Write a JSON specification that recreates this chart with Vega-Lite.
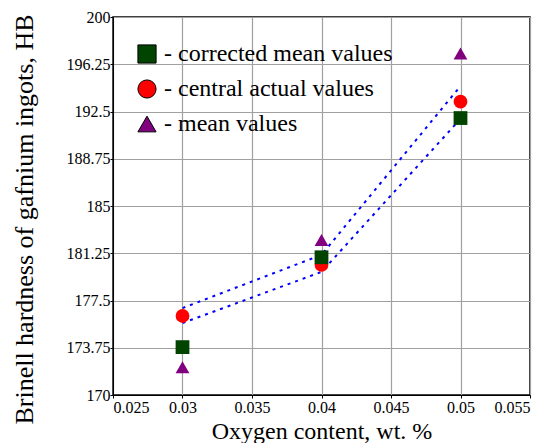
{
  "$schema": "https://vega.github.io/schema/vega-lite/v6.json",
  "width": 417,
  "height": 378,
  "autosize": "none",
  "padding": {"left": 113, "top": 17, "right": 21, "bottom": 48},
  "background": "white",
  "config": {
    "font": "Liberation Serif",
    "view": {"stroke": "black", "strokeWidth": 1.5},
    "legend": {"labelFont": "Liberation Serif"},
    "axis": {
      "labelFont": "Liberation Serif",
      "titleFont": "Liberation Serif",
      "labelFontSize": 16,
      "titleFontSize": 24,
      "titleFontWeight": "normal",
      "labelColor": "black",
      "titleColor": "black",
      "gridColor": "#a0a0a0",
      "gridOpacity": 1,
      "gridWidth": 1.2,
      "domainColor": "black",
      "tickColor": "black",
      "tickSize": 3
    }
  },
  "datasets": {
    "pts": [
      {"series": "- central actual values", "oxygen": 0.03, "hb": 176.27},
      {"series": "- central actual values", "oxygen": 0.04, "hb": 180.32},
      {"series": "- central actual values", "oxygen": 0.05, "hb": 193.28},
      {"series": "- corrected mean values", "oxygen": 0.03, "hb": 173.8},
      {"series": "- corrected mean values", "oxygen": 0.04, "hb": 180.93},
      {"series": "- corrected mean values", "oxygen": 0.05, "hb": 191.98},
      {"series": "- mean values", "oxygen": 0.03, "hb": 172.2},
      {"series": "- mean values", "oxygen": 0.04, "hb": 182.3},
      {"series": "- mean values", "oxygen": 0.05, "hb": 197.1}
    ],
    "bands": [
      {"band": "upper", "oxygen": 0.03, "hb": 176.9},
      {"band": "upper", "oxygen": 0.04, "hb": 181.12},
      {"band": "upper", "oxygen": 0.05, "hb": 194.52},
      {"band": "lower", "oxygen": 0.03, "hb": 175.71},
      {"band": "lower", "oxygen": 0.04, "hb": 179.77},
      {"band": "lower", "oxygen": 0.05, "hb": 191.92}
    ]
  },
  "layer": [
    {
      "data": {"name": "bands"},
      "mark": {"type": "line", "color": "#0000ff", "strokeWidth": 2, "strokeDash": [3, 5]},
      "encoding": {
        "x": {
          "field": "oxygen", "type": "quantitative",
          "scale": {"domain": [0.025, 0.055], "nice": false, "zero": false},
          "axis": {
            "values": [0.025, 0.03, 0.035, 0.04, 0.045, 0.05, 0.055],
            "labelExpr": "'' + datum.value",
            "title": "Oxygen content, wt. %",
            "titlePadding": 4,
            "labelPadding": 1
          }
        },
        "y": {
          "field": "hb", "type": "quantitative",
          "scale": {"domain": [170, 200], "nice": false, "zero": false},
          "axis": {
            "values": [170, 173.75, 177.5, 181.25, 185, 188.75, 192.5, 196.25, 200],
            "labelExpr": "'' + datum.value",
            "title": "Brinell hardness of gafnium ingots, HB",
            "titleFontSize": 26,
            "titleX": -76,
            "titleY": 202,
            "labelPadding": 0
          }
        },
        "detail": {"field": "band"}
      }
    },
    {
      "data": {"name": "pts"},
      "mark": {"type": "point", "filled": true, "opacity": 1, "size": 190, "strokeWidth": 0},
      "encoding": {
        "x": {"field": "oxygen", "type": "quantitative"},
        "y": {"field": "hb", "type": "quantitative"},
        "color": {
          "field": "series", "type": "nominal",
          "scale": {
            "domain": ["- corrected mean values", "- central actual values", "- mean values"],
            "range": ["#004400", "#ff0000", "#800080"]
          },
          "legend": {
            "title": null,
            "orient": "none",
            "legendX": 22,
            "legendY": 25,
            "labelFontSize": 24,
            "labelColor": "black",
            "symbolSize": 330,
            "symbolStrokeColor": "black",
            "symbolStrokeWidth": 1,
            "rowPadding": 11,
            "labelOffset": 5,
            "labelLimit": 400
          }
        },
        "shape": {
          "field": "series", "type": "nominal",
          "scale": {
            "domain": ["- corrected mean values", "- central actual values", "- mean values"],
            "range": ["square", "circle", "triangle-up"]
          },
          "legend": null
        }
      }
    }
  ]
}
